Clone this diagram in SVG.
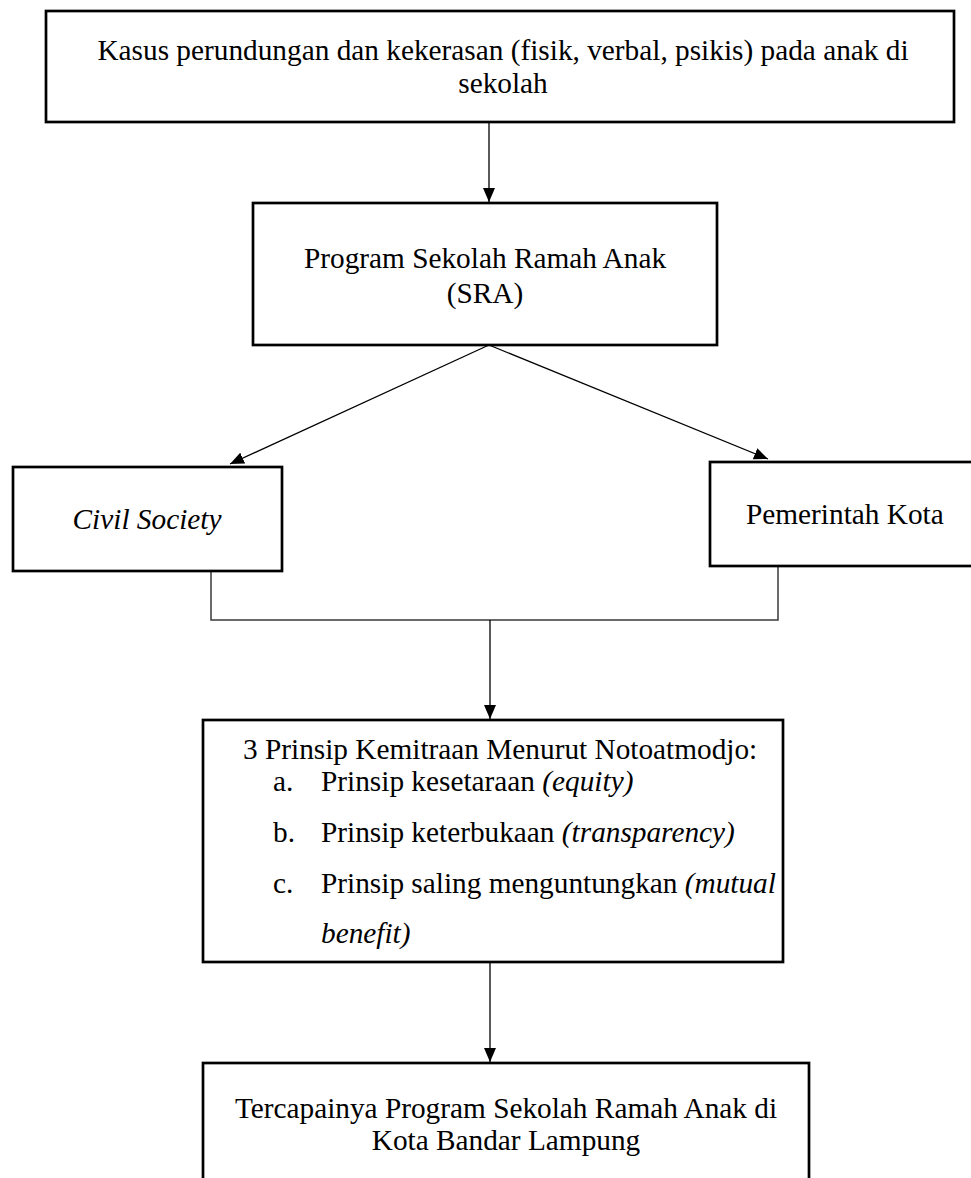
<svg xmlns="http://www.w3.org/2000/svg" width="971" height="1178" viewBox="0 0 971 1178">
<style>
  text { font-family: "Liberation Serif", "Times New Roman", serif; font-size: 29.3px; fill: #000; }
  .c { text-anchor: middle; }
  .i { font-style: italic; }
  .box { fill: #fff; stroke: #000; stroke-width: 2.7; }
  .conn { fill: none; stroke: #000; stroke-width: 1.3; }
  .br { fill: none; stroke: #3a3a3a; stroke-width: 1.5; }
</style>
<defs>
  <marker id="ah" viewBox="0 0 14 12" refX="14" refY="6" markerWidth="14" markerHeight="12" markerUnits="userSpaceOnUse" orient="auto">
    <path d="M0,0 L14,6 L0,12 z" fill="#000"/>
  </marker>
</defs>
<rect width="971" height="1178" fill="#fff"/>

<g id="connectors">
  <line class="conn" x1="489" y1="122" x2="489" y2="202" marker-end="url(#ah)"/>
  <line class="conn" x1="489" y1="345" x2="230" y2="464" marker-end="url(#ah)"/>
  <line class="conn" x1="489" y1="345" x2="768" y2="459" marker-end="url(#ah)"/>
  <polyline class="br" points="211,571 211,620 778,620 778,566"/>
  <line class="conn" x1="490" y1="620" x2="490" y2="719" marker-end="url(#ah)"/>
  <line class="conn" x1="490" y1="962" x2="490" y2="1062" marker-end="url(#ah)"/>
</g>

<g id="node-kasus">
  <rect class="box" x="46" y="11" width="908" height="111"/>
  <text class="c" x="503" y="60">Kasus perundungan dan kekerasan (fisik, verbal, psikis) pada anak di</text>
  <text class="c" x="503" y="93">sekolah</text>
</g>

<g id="node-sra">
  <rect class="box" x="253" y="203" width="464" height="142"/>
  <text class="c" x="485" y="268">Program Sekolah Ramah Anak</text>
  <text class="c" x="485" y="303">(SRA)</text>
</g>

<g id="node-civil">
  <rect class="box" x="13" y="467" width="269" height="104"/>
  <text class="c i" x="147" y="529">Civil Society</text>
</g>

<g id="node-pemerintah">
  <rect class="box" x="710" y="462" width="270" height="104"/>
  <text x="746" y="524">Pemerintah Kota</text>
</g>

<g id="node-prinsip">
  <rect class="box" x="203" y="720" width="580" height="242"/>
  <text x="243" y="759">3 Prinsip Kemitraan Menurut Notoatmodjo:</text>
  <text x="273" y="791">a.</text>
  <text x="321" y="791">Prinsip kesetaraan <tspan class="i">(equity)</tspan></text>
  <text x="273" y="842">b.</text>
  <text x="321" y="842">Prinsip keterbukaan <tspan class="i">(transparency)</tspan></text>
  <text x="273" y="893">c.</text>
  <text x="321" y="893">Prinsip saling menguntungkan <tspan class="i">(mutual</tspan></text>
  <text class="i" x="321" y="943">benefit)</text>
</g>

<g id="node-tercapai">
  <rect class="box" x="203" y="1063" width="606" height="130"/>
  <text class="c" x="506" y="1118">Tercapainya Program Sekolah Ramah Anak di</text>
  <text class="c" x="506" y="1150">Kota Bandar Lampung</text>
</g>
</svg>
